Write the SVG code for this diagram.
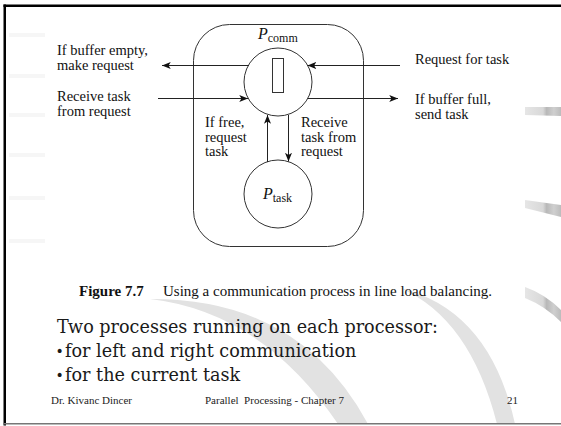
<svg xmlns="http://www.w3.org/2000/svg" width="561" height="426" viewBox="0 0 561 426">
  <style>
    .fig { font-family: "Liberation Serif", "Times New Roman", serif; font-size: 14.5px; fill: #111; }
    .cap { font-family: "Liberation Serif", "Times New Roman", serif; font-size: 15px; fill: #111; }
    .proc { font-family: "Liberation Serif", "Times New Roman", serif; font-style: italic; font-size: 16px; fill: #111; }
    .sub { font-family: "Liberation Serif", "Times New Roman", serif; font-style: normal; font-size: 12px; fill: #111; }
    .body { font-family: "DejaVu Serif", "Liberation Serif", serif; font-size: 17.6px; fill: #1a1a1a; }
    .bullet { font-family: "DejaVu Sans", sans-serif; font-size: 14px; fill: #1a1a1a; }
    .foot { font-family: "Liberation Serif", "Times New Roman", serif; font-size: 11px; fill: #222; }
    .edge { fill: none; stroke: #222; stroke-width: 1; }
    .shape { fill: none; stroke: #333; stroke-width: 1; }
    .swoosh { fill: #e2e2e2; }
    .tab { fill: #f6f6f6; }
  </style>
  <defs>
    <marker id="arrow" viewBox="0 0 10 8" refX="10" refY="4" markerWidth="9" markerHeight="7" markerUnits="userSpaceOnUse" orient="auto">
      <path d="M0,0 L10,4 L0,8 L2.5,4 Z" fill="#111"/>
    </marker>
    <linearGradient id="ribbon" x1="0" y1="0" x2="1" y2="0">
      <stop offset="0" stop-color="#e6e6e6"/>
      <stop offset="0.5" stop-color="#d8d8d8"/>
      <stop offset="0.6" stop-color="#b8b8b8"/>
      <stop offset="0.8" stop-color="#cfcfcf"/>
      <stop offset="1" stop-color="#bcbcbc"/>
    </linearGradient>
  </defs>

  <rect width="561" height="426" fill="#fff"/>

  <!-- slide template: background swooshes, side ribbons, frame -->
  <g id="template">
    <path class="swoosh" d="M150,299 Q300,298 368,424 L338,424 Q262,312 150,299 Z"/>
    <path class="swoosh" d="M400,288 Q490,310 515,424 L497,424 Q470,318 400,288 Z"/>
    <path fill="url(#ribbon)" d="M525,107 L561,107 L561,116 L525,115 Z"/>
    <path fill="url(#ribbon)" d="M525,200 L561,205 L561,217 L525,208 Z"/>
    <path fill="url(#ribbon)" d="M525,287 Q545,294 561,310 L561,322 Q545,306 525,298 Z"/>
    <rect class="tab" x="9" y="33" width="36" height="4"/>
    <rect class="tab" x="9" y="74" width="36" height="4"/>
    <rect class="tab" x="9" y="113" width="36" height="4"/>
    <rect class="tab" x="9" y="153" width="36" height="4"/>
    <rect class="tab" x="9" y="196" width="36" height="4"/>
    <rect class="tab" x="9" y="239" width="36" height="4"/>
    <rect x="3.5" y="4.5" width="557.5" height="2.5" fill="#000"/>
    <rect x="3.5" y="4.5" width="2.5" height="421" fill="#000"/>
    <rect x="3.5" y="423" width="557.5" height="1.5" fill="#777"/>
  </g>

  <!-- processor boundary -->
  <g id="processor">
    <rect class="shape" x="193.5" y="24.5" width="170" height="222" rx="36" ry="36"/>
  </g>

  <!-- communication process with its buffer -->
  <g id="p-comm">
    <circle class="shape" cx="278" cy="82" r="34"/>
    <rect class="shape" x="272.5" y="58.5" width="11" height="34"/>
    <text class="proc" x="258" y="39">P<tspan class="sub" dy="3">comm</tspan></text>
  </g>

  <!-- task process -->
  <g id="p-task">
    <circle class="shape" cx="278" cy="194" r="34"/>
    <text class="proc" x="263" y="199">P<tspan class="sub" dy="3">task</tspan></text>
  </g>

  <!-- connectors -->
  <g id="connectors">
    <line class="edge" x1="249" y1="65.5" x2="162" y2="65.5" marker-end="url(#arrow)"/>
    <line class="edge" x1="400" y1="65.5" x2="307.5" y2="65.5" marker-end="url(#arrow)"/>
    <line class="edge" x1="158" y1="98.5" x2="248" y2="98.5" marker-end="url(#arrow)"/>
    <line class="edge" x1="308" y1="98.5" x2="398" y2="98.5" marker-end="url(#arrow)"/>
    <line class="edge" x1="267.5" y1="162" x2="267.5" y2="115" marker-end="url(#arrow)"/>
    <line class="edge" x1="288.5" y1="115" x2="288.5" y2="161.5" marker-end="url(#arrow)"/>
  </g>

  <!-- connector labels -->
  <g id="labels">
    <text class="fig" x="57" y="55">If buffer empty,</text>
    <text class="fig" x="57" y="70">make request</text>
    <text class="fig" x="415" y="64">Request for task</text>
    <text class="fig" x="57" y="101">Receive task</text>
    <text class="fig" x="57" y="116">from request</text>
    <text class="fig" x="415" y="104">If buffer full,</text>
    <text class="fig" x="415" y="119">send task</text>
    <text class="fig" x="205" y="127">If free,</text>
    <text class="fig" x="205" y="141.5">request</text>
    <text class="fig" x="205" y="156">task</text>
    <text class="fig" x="301" y="127">Receive</text>
    <text class="fig" x="301" y="141.5">task from</text>
    <text class="fig" x="301" y="156">request</text>
  </g>

  <!-- caption -->
  <text class="cap" x="79" y="296"><tspan font-weight="bold">Figure 7.7</tspan><tspan x="163">Using a communication process in line load balancing.</tspan></text>

  <!-- slide text -->
  <text class="body" x="57" y="333">Two processes running on each processor:</text>
  <text class="bullet" x="55.5" y="356">•</text>
  <text class="body" x="65" y="357">for left and right communication</text>
  <text class="bullet" x="55.5" y="380">•</text>
  <text class="body" x="65" y="381">for the current task</text>

  <!-- footer -->
  <text class="foot" x="51" y="404">Dr. Kivanc Dincer</text>
  <text class="foot" x="205" y="404" xml:space="preserve">Parallel  Processing - Chapter 7</text>
  <text class="foot" x="507" y="404">21</text>
</svg>
